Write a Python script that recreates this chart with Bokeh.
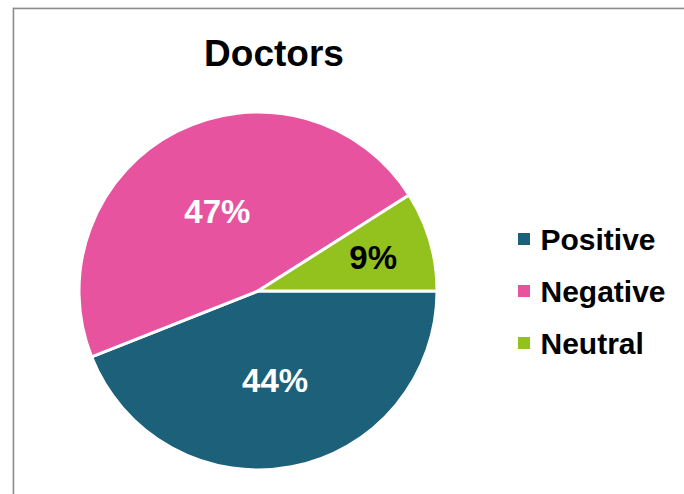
import math
from bokeh.plotting import figure
from bokeh.models import Range1d, ColumnDataSource
from bokeh.core.properties import value
from bokeh.embed import file_html
from bokeh.resources import INLINE

# ---- data ----
title_text = "Doctors"
categories = ["Positive", "Negative", "Neutral"]
values = [44, 47, 9]
label_texts = ["44%", "47%", "9%"]

# ---- styles ----
colors = ["#1C6079", "#E8539F", "#93C11E"]
label_colors = ["white", "white", "black"]
label_radius_frac = [0.51, 0.50, 0.67]

W, H = 684, 494
MB_LEFT, MB_TOP = 12, 7
FW, FH = W - MB_LEFT, H - MB_TOP

p = figure(width=W, height=H, output_backend="svg", toolbar_location=None,
           x_range=Range1d(0, FW), y_range=Range1d(0, FH),
           x_axis_type=None, y_axis_type=None,
           min_border_left=MB_LEFT, min_border_top=MB_TOP,
           min_border_right=0, min_border_bottom=0)
p.grid.visible = False
p.outline_line_color = None
p.background_fill_color = "white"
p.border_fill_color = "white"

# frame border (left and top only visible in reference)
p.segment(x0=[0.75, 0.75], y0=[0, FH - 0.75], x1=[0.75, FW], y1=[FH, FH - 0.75],
          line_color="#8c8c8c", line_width=2)

# pie
cx, cy, R = 245.5, 203.5, 179
total = sum(values)
starts, ends, mids = [], [], []
cum = 0.0
for v in values:
    a0 = -2 * math.pi * cum / total
    cum += v
    a1 = -2 * math.pi * cum / total
    starts.append(a0)
    ends.append(a1)
    mids.append((a0 + a1) / 2)

src = ColumnDataSource(dict(start=starts, end=ends, color=colors, cat=categories))
p.wedge(x=cx, y=cy, radius=R, start_angle="start", end_angle="end", direction="clock",
        fill_color="color", line_color="white", line_width=3, source=src)

lx = [cx + f * R * math.cos(m) for f, m in zip(label_radius_frac, mids)]
ly = [cy + f * R * math.sin(m) for f, m in zip(label_radius_frac, mids)]
p.text(x=lx, y=ly, text=label_texts, text_color=label_colors,
       text_font=value("Liberation Sans"), text_font_style="bold",
       text_font_size="33px", text_align="center", text_baseline="middle")

# title
p.text(x=[261.5], y=[441.5], text=[title_text], text_color="black",
       text_font=value("Liberation Sans"), text_font_style="bold",
       text_font_size="37px", text_align="center", text_baseline="middle")

# legend
leg_top, leg_step = 255.5, 52
leg_y = [leg_top - i * leg_step for i in range(len(categories))]
p.scatter(x=[511.5] * len(categories), y=leg_y, marker="square", size=12,
          fill_color=colors, line_color=None)
p.text(x=[528] * len(categories), y=leg_y, text=categories, text_color="black",
       text_font=value("Liberation Sans"), text_font_style="bold",
       text_font_size="30px", text_align="left", text_baseline="middle")

open("out.html", "w").write(file_html(p, INLINE))
